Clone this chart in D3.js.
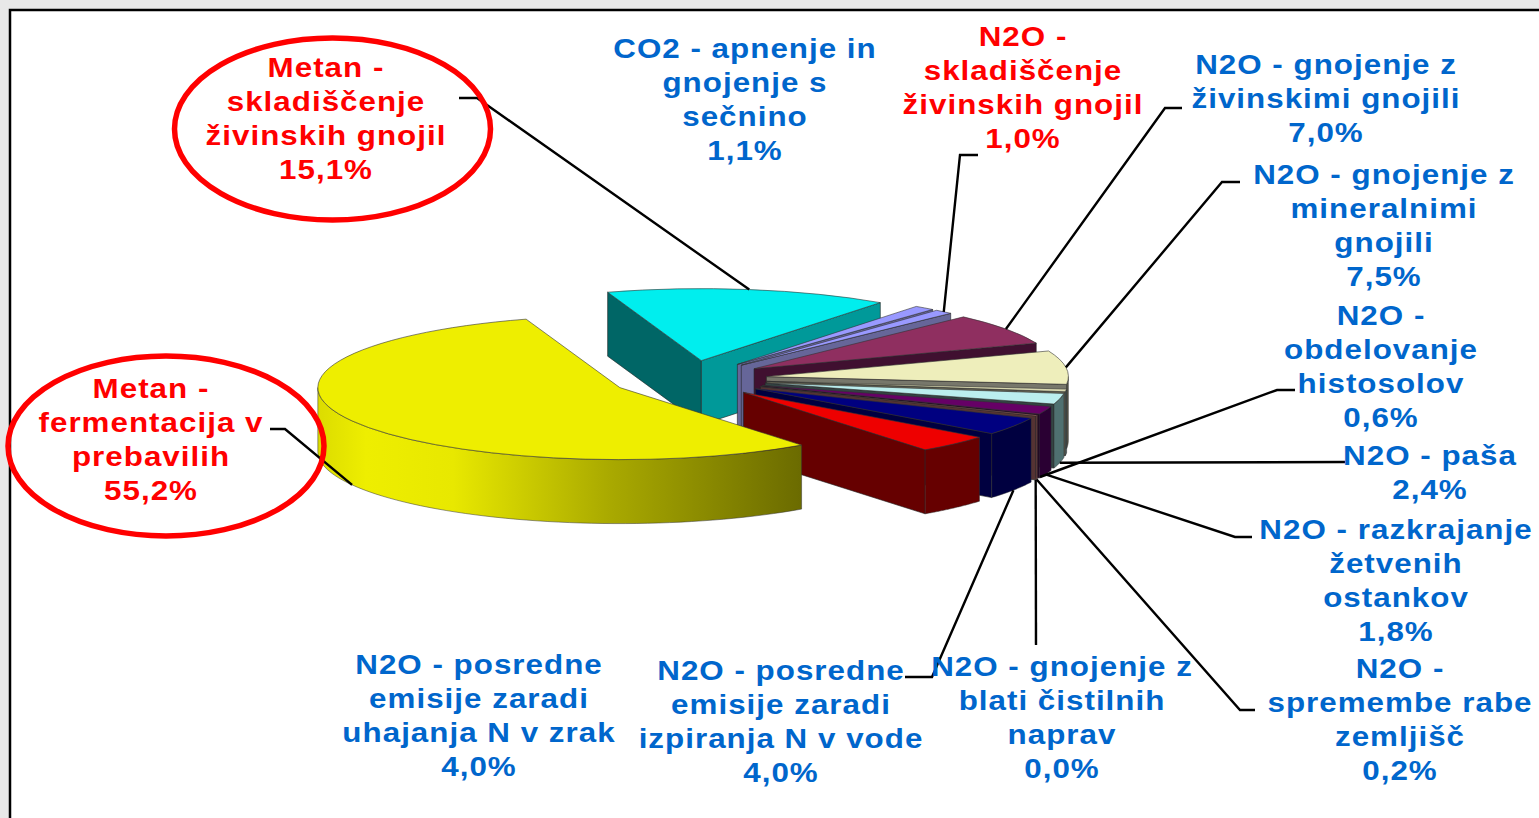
<!DOCTYPE html>
<html>
<head>
<meta charset="utf-8">
<script src="https://d3js.org/d3.v7.min.js"></script>
<style>
body { margin: 0; background: #e8e8e8; }
text { font-family: "Liberation Sans", Arial, sans-serif; font-weight: bold; font-size: 28px; letter-spacing: 0.9px; text-anchor: middle; }
</style>
</head>
<body>
<div id="the_chart"></div>
<script>
// data, clockwise from the yellow slice
var labels = [
    ["Metan -", "fermentacija v", "prebavilih"],
    ["Metan -", "skladiščenje", "živinskih gnojil"],
    ["CO2 - apnenje in", "gnojenje s", "sečnino"],
    ["N2O -", "skladiščenje", "živinskih gnojil"],
    ["N2O - gnojenje z", "živinskimi gnojili"],
    ["N2O - gnojenje z", "mineralnimi", "gnojili"],
    ["N2O -", "obdelovanje", "histosolov"],
    ["N2O - paša"],
    ["N2O - razkrajanje", "žetvenih", "ostankov"],
    ["N2O -", "spremembe rabe", "zemljišč"],
    ["N2O - gnojenje z", "blati čistilnih", "naprav"],
    ["N2O - posredne", "emisije zaradi", "izpiranja N v vode"],
    ["N2O - posredne", "emisije zaradi", "uhajanja N v zrak"]
];
var values = [55.2, 15.1, 1.1, 1.0, 7.0, 7.5, 0.6, 2.4, 1.8, 0.2, 0.0, 4.0, 4.0];

// colours per slice
var topColors   = ["#eeee00", "#00eeee", "#9999ff", "#9999ff", "#8f2f60", "#eeeebb", "#d8d8b0", "#bbeeee", "#660066", "#cc7766", "#666688", "#000080", "#ee0000"];
var wallFirst   = ["#666600", "#006666", "#666699", "#666699", "#401030", "#77776b", "#666655", "#557777", "#2a0033", "#663333", "#333344", "#000040", "#660000"];
var wallLast    = ["#666600", "#009999", "#666699", "#666699", "#401030", "#77776b", "#666655", "#334444", "#220022", "#553333", "#333344", "#000040", "#660000"];
var wallOuter   = ["url(#yellow_side)", "#009999", "#666699", "#666699", "#401030", "#555548", "#445555", "#4f7070", "#2a0033", "#663b3b", "#3a3a4a", "#000040", "#660000"];
var textColors  = ["#ff0000", "#ff0000", "#0066cc", "#ff0000", "#0066cc", "#0066cc", "#0066cc", "#0066cc", "#0066cc", "#0066cc", "#0066cc", "#0066cc", "#0066cc"];

// label centres (first line) and leader elbows
var labelX = [151, 326, 745, 1023, 1326, 1384, 1381, 1430, 1396, 1400, 1062, 781, 479];
var labelY = [388, 67, 48, 36, 64, 174, 315, 455, 529, 668, 666, 670, 664];
var leaders = [
    [[270, 429], [285, 429]],
    [[459, 98], [477, 98]],
    null,
    [[978, 155], [960, 155]],
    [[1182, 108], [1165, 108]],
    [[1240, 182], [1222, 182]],
    [[1295, 390], [1277, 390]],
    [[1345, 462]],
    [[1252, 537], [1235, 537]],
    [[1255, 710], [1240, 710]],
    [[1036, 645]],
    [[905, 677], [932, 677]],
    null
];
var circled = [[166, 446, 158, 90], [332.5, 129, 158, 91]];

var w = 1539, h = 818;
var cx = 689, cy = 379;
var rx = 302, ry = 72, depth = 64, explode = 78;
var yScale = ry / rx;

var svg = d3.select("#the_chart").append("svg")
    .attr("width", w)
    .attr("height", h)
    .style("display", "block");

var grad = svg.append("defs").append("linearGradient")
    .attr("id", "yellow_side")
    .attr("gradientUnits", "userSpaceOnUse")
    .attr("x1", 318).attr("x2", 801).attr("y1", 0).attr("y2", 0);
[[0, "#dcdc00"], [0.1, "#eeee00"], [0.28, "#e8e800"], [0.6, "#aaaa00"], [1, "#6b6b00"]].forEach(function (s) {
    grad.append("stop").attr("offset", s[0]).attr("stop-color", s[1]);
});

// frame
svg.append("rect").attr("x", 10).attr("y", 10).attr("width", w).attr("height", h)
    .attr("fill", "white").attr("stroke", "black").attr("stroke-width", 2.5);

var pie = d3.pie().sort(null).startAngle(143 * Math.PI / 180).endAngle((143 + 360) * Math.PI / 180);
var slices = pie(values);
var arc = d3.arc().innerRadius(0).outerRadius(rx);
var line = d3.line();

function mid(d) { return (d.startAngle + d.endAngle) / 2; }
function apex(d) {
    var a = mid(d);
    return [cx + explode * Math.sin(a), cy - explode * Math.cos(a) * yScale];
}
function rim(d, a) {
    var c = apex(d);
    return [c[0] + rx * Math.sin(a), c[1] - ry * Math.cos(a)];
}
function down(p) { return [p[0], p[1] + depth]; }

// where a leader touches its slice
function anchor(d) {
    var a = mid(d), p = rim(d, a);
    return Math.cos(a) < 0 ? down(p) : p;
}

// yellow goes last, it sits in front of all the others
var order = slices.slice(1).concat(slices[0]);
var g = svg.append("g");

order.forEach(function (d) {
    var i = d.index;
    if (d.value == 0) return;
    var c = apex(d);
    var a0 = d.startAngle, a1 = d.endAngle;

    if (Math.sin(a0) < 0) {
        var p0 = rim(d, a0);
        g.append("path").attr("d", line([c, p0, down(p0), down(c)]) + "Z")
            .attr("fill", wallFirst[i]).attr("stroke", "#222").attr("stroke-width", 0.6);
    }
    if (Math.sin(a1) > 0) {
        var p1 = rim(d, a1);
        g.append("path").attr("d", line([c, p1, down(p1), down(c)]) + "Z")
            .attr("fill", wallLast[i]).attr("stroke", "#222").attr("stroke-width", 0.6);
    }

    // outer wall, only the part between 90 and 270 degrees shows
    var off = a0 >= 2 * Math.PI ? 2 * Math.PI : 0;
    var from = Math.max(a0 - off, Math.PI / 2), to = Math.min(a1 - off, 3 * Math.PI / 2);
    if (to > from) {
        var upper = d3.range(0, 61).map(function (k) { return rim(d, from + (to - from) * k / 60); });
        g.append("path").attr("d", line(upper.concat(upper.map(down).reverse())) + "Z")
            .attr("fill", wallOuter[i]).attr("stroke", "#333").attr("stroke-width", 0.5);
    }

    g.append("path")
        .attr("d", arc(d))
        .attr("transform", "translate(" + c[0] + "," + c[1] + ") scale(1," + yScale + ")")
        .attr("fill", topColors[i])
        .attr("stroke", "#333").attr("stroke-width", 0.6)
        .attr("vector-effect", "non-scaling-stroke");
});

// leaders
slices.forEach(function (d) {
    var pts = leaders[d.index];
    if (!pts) return;
    var end = d.index == 6 ? [1040, 477] : anchor(d); // this one runs behind the pie in the original
    svg.append("path").attr("d", line(pts.concat([end])))
        .attr("fill", "none").attr("stroke", "black").attr("stroke-width", 2.4);
});

// red rings
svg.selectAll("ellipse").data(circled).enter().append("ellipse")
    .attr("cx", function (d) { return d[0]; })
    .attr("cy", function (d) { return d[1]; })
    .attr("rx", function (d) { return d[2]; })
    .attr("ry", function (d) { return d[3]; })
    .attr("fill", "none").attr("stroke", "#ff0000").attr("stroke-width", 5.5);

// labels, the source picture is stretched sideways
var pct = function (v) { return d3.format(".1f")(v).replace(".", ",") + "%"; };
var lineStep = 33.9;
slices.forEach(function (d) {
    var i = d.index;
    labels[i].concat(pct(d.value)).forEach(function (txt, k) {
        svg.append("text")
            .attr("transform", "translate(" + labelX[i] + "," + (labelY[i] + 10 + k * lineStep) + ") scale(1.12,1)")
            .attr("fill", textColors[i])
            .text(txt);
    });
});
</script>
</body>
</html>
